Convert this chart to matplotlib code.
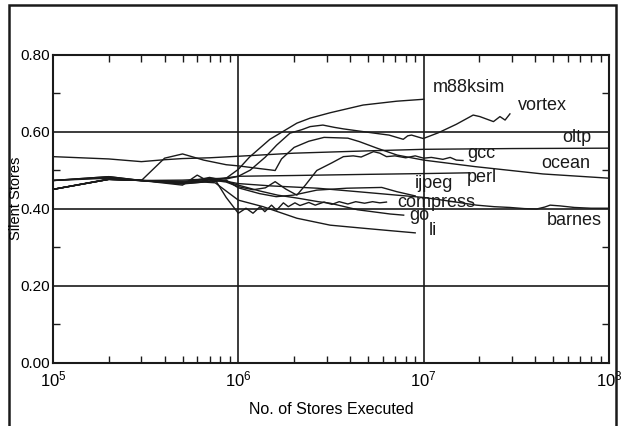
import matplotlib
matplotlib.use("Agg")
import matplotlib.pyplot as plt
from matplotlib.patches import Rectangle
from matplotlib.ticker import FixedLocator, LogLocator, NullFormatter

plt.rcParams["font.family"] = ["Liberation Sans", "DejaVu Sans"]
plt.rcParams["mathtext.fontset"] = "custom"
plt.rcParams["mathtext.rm"] = "Liberation Sans"
plt.rcParams["mathtext.default"] = "regular"

# ------------------ data ------------------
oltp_x = [1e5, 2e5, 3e5, 4e5, 5e5, 7e5, 1e6, 2e6, 5e6, 1e7, 3e7, 1e8]
oltp_y = [0.536, 0.530, 0.523, 0.528, 0.531, 0.533, 0.537, 0.545, 0.551, 0.555, 0.557, 0.558]

ocean_x = [1e5, 2e5, 3e5, 4e5, 5e5, 6.5e5, 8.6e5, 1e6, 1.3e6, 1.58e6, 1.71e6, 2.0e6, 2.4e6,
           2.9e6, 3.9e6, 4.5e6, 5.6e6, 7.2e6, 1e7, 1.9e7, 4.4e7, 1e8]
ocean_y = [0.474, 0.482, 0.474, 0.532, 0.543, 0.527, 0.515, 0.512, 0.505, 0.500, 0.530, 0.560, 0.576,
           0.586, 0.584, 0.575, 0.558, 0.540, 0.527, 0.510, 0.491, 0.480]

m88ksim_x = [1e5, 2e5, 3e5, 5e5, 7e5, 8.6e5, 1e6, 1.15e6, 1.48e6, 2.07e6, 2.44e6, 3.13e6,
             4.71e6, 7.16e6, 1.0e7]
m88ksim_y = [0.451, 0.477, 0.474, 0.470, 0.472, 0.480, 0.503, 0.535, 0.581, 0.623, 0.636, 0.650,
             0.670, 0.680, 0.685]

vortex_x = [1e5, 2e5, 3e5, 5e5, 7e5, 8.6e5, 1e6, 1.16e6, 1.4e6, 1.61e6, 1.9e6, 2.2e6, 2.44e6,
            2.86e6, 3.3e6, 3.7e6, 4.71e6, 5.82e6, 6.5e6, 7.76e6, 8.2e6, 8.6e6, 9.95e6, 1.2e7,
            1.5e7, 1.85e7, 2.01e7, 2.38e7, 2.58e7, 2.75e7, 2.92e7]
vortex_y = [0.474, 0.484, 0.474, 0.468, 0.480, 0.478, 0.485, 0.501, 0.535, 0.566, 0.597, 0.606, 0.614,
            0.618, 0.612, 0.608, 0.601, 0.595, 0.592, 0.581, 0.590, 0.592, 0.583, 0.598,
            0.620, 0.644, 0.640, 0.627, 0.640, 0.631, 0.647]

gcc_x = [1e5, 2e5, 3e5, 5e5, 7e5, 8.6e5, 1e6, 1.2e6, 1.4e6, 1.58e6, 1.8e6, 2.07e6, 2.3e6, 2.65e6,
         3.2e6, 3.69e6, 4.17e6, 4.6e6, 5.36e6, 5.8e6, 6.3e6, 7e6, 8e6, 9e6, 1e7, 1.1e7, 1.27e7,
         1.39e7, 1.5e7, 1.63e7]
gcc_y = [0.451, 0.478, 0.474, 0.466, 0.476, 0.470, 0.458, 0.450, 0.455, 0.471, 0.452, 0.436, 0.462, 0.500,
         0.520, 0.536, 0.538, 0.535, 0.549, 0.545, 0.536, 0.538, 0.533, 0.538, 0.532, 0.534, 0.529,
         0.534, 0.527, 0.526]

perl_x = [1e5, 2e5, 3e5, 5e5, 7e5, 8.6e5, 1e6, 2e6, 5e6, 1e7, 1.78e7]
perl_y = [0.474, 0.484, 0.474, 0.472, 0.477, 0.481, 0.485, 0.487, 0.490, 0.492, 0.494]

ijpeg_x = [1e5, 2e5, 3e5, 5e5, 6e5, 7e5, 8.6e5, 1e6, 1.3e6, 1.6e6, 1.98e6, 2.65e6, 3.85e6,
           5.94e6, 7.16e6, 9e6]
ijpeg_y = [0.451, 0.477, 0.474, 0.462, 0.488, 0.470, 0.475, 0.455, 0.440, 0.432, 0.436, 0.449, 0.454,
           0.456, 0.445, 0.434]

compress_x = [1e5, 2e5, 3e5, 5e5, 6.5e5, 7.5e5, 8.6e5, 1e6, 1.1e6, 1.2e6, 1.31e6, 1.39e6, 1.51e6,
              1.61e6, 1.75e6, 1.86e6, 2.02e6, 2.15e6, 2.4e6, 2.6e6, 2.9e6, 3.2e6, 3.5e6, 3.9e6,
              4.3e6, 4.8e6, 5.3e6, 5.8e6, 6.3e6]
compress_y = [0.451, 0.477, 0.474, 0.465, 0.470, 0.476, 0.430, 0.389, 0.402, 0.389, 0.406, 0.393, 0.410,
              0.397, 0.416, 0.406, 0.416, 0.409, 0.417, 0.410, 0.418, 0.412, 0.419, 0.413,
              0.419, 0.415, 0.419, 0.416, 0.418]

go_x = [1e5, 2e5, 3e5, 5e5, 7e5, 8.6e5, 1e6, 1.3e6, 1.63e6, 2.1e6, 2.7e6, 3.13e6, 4.4e6, 6.59e6, 7.8e6]
go_y = [0.451, 0.477, 0.474, 0.468, 0.482, 0.472, 0.462, 0.447, 0.436, 0.428, 0.419, 0.415, 0.398, 0.387, 0.384]

li_x = [1e5, 2e5, 3e5, 5e5, 6.5e5, 7.5e5, 1e6, 1.36e6, 2.07e6, 3.13e6, 4.73e6, 6.5e6, 9e6]
li_y = [0.451, 0.477, 0.474, 0.466, 0.470, 0.468, 0.423, 0.406, 0.376, 0.358, 0.350, 0.344, 0.338]

barnes_x = [1e5, 2e5, 3e5, 5e5, 7e5, 8.6e5, 1e6, 1.5e6, 2.67e6, 4.4e6, 7.16e6, 1e7, 1.4e7, 1.93e7,
            2.4e7, 2.92e7, 3.5e7, 4.07e7, 4.5e7, 4.81e7, 5.45e7, 6.5e7, 8e7, 1e8]
barnes_y = [0.474, 0.480, 0.474, 0.475, 0.478, 0.472, 0.466, 0.460, 0.454, 0.445, 0.436, 0.430, 0.420, 0.410,
            0.406, 0.404, 0.401, 0.400, 0.405, 0.410, 0.408, 0.404, 0.402, 0.402]

series = {
    "m88ksim": (m88ksim_x, m88ksim_y),
    "vortex": (vortex_x, vortex_y),
    "oltp": (oltp_x, oltp_y),
    "gcc": (gcc_x, gcc_y),
    "ocean": (ocean_x, ocean_y),
    "perl": (perl_x, perl_y),
    "ijpeg": (ijpeg_x, ijpeg_y),
    "compress": (compress_x, compress_y),
    "go": (go_x, go_y),
    "li": (li_x, li_y),
    "barnes": (barnes_x, barnes_y),
}

# where the names sit (x, y in data units)
label_pos = {
    "m88ksim": (1.12e7, 0.716),
    "vortex": (3.23e7, 0.670),
    "oltp": (5.58e7, 0.587),
    "gcc": (1.71e7, 0.543),
    "ocean": (4.3e7, 0.519),
    "perl": (1.71e7, 0.481),
    "ijpeg": (9.0e6, 0.465),
    "compress": (7.2e6, 0.418),
    "go": (8.35e6, 0.382),
    "li": (1.06e7, 0.345),
    "barnes": (4.63e7, 0.371),
}

# ------------------ plot ------------------
fig = plt.figure(figsize=(6.22, 4.26), dpi=100)
ax = fig.add_axes([0.0852, 0.1479, 0.8939, 0.7230])

ink = "#1a1a1a"
for name, (xs, ys) in series.items():
    ax.plot(xs, ys, color=ink, lw=1.0)
    lx, ly = label_pos[name]
    ax.text(lx, ly, name, fontsize=13, color=ink, ha="left", va="center")

ax.set_xscale("log")
ax.set_xlim(1e5, 1e8)
ax.set_ylim(0, 0.8)

# grid lines at the majors
for yv in [0.2, 0.4, 0.6]:
    ax.axhline(yv, color=ink, lw=1.2, zorder=0)
for xv in [1e6, 1e7]:
    ax.axvline(xv, color=ink, lw=1.2, zorder=0)

ax.set_yticks([0.0, 0.2, 0.4, 0.6, 0.8])
ax.set_yticklabels(["0.00", "0.20", "0.40", "0.60", "0.80"])
ax.yaxis.set_minor_locator(FixedLocator([0.1, 0.3, 0.5, 0.7]))
ax.set_xticks([1e5, 1e6, 1e7, 1e8])
ax.set_xticklabels([r"$10^{5}$", r"$10^{6}$", r"$10^{7}$", r"$10^{8}$"])
ax.xaxis.set_minor_locator(LogLocator(base=10, subs=range(2, 10)))
ax.xaxis.set_minor_formatter(NullFormatter())

ax.tick_params(which="both", direction="in", top=True, right=True, color=ink)
ax.tick_params(which="major", length=0)
ax.tick_params(axis="y", which="major", pad=2, labelsize=11)
ax.tick_params(axis="x", which="major", pad=5, labelsize=12)
ax.tick_params(which="minor", length=5, width=1.0)

for s in ax.spines.values():
    s.set_linewidth(1.5)
    s.set_color(ink)

ax.set_xlabel("No. of Stores Executed", fontsize=11.5, labelpad=9)
fig.text(0.025, 0.535, "Silent Stores", rotation=90, fontsize=10.5,
         ha="center", va="center")

# outer frame around the whole figure (bottom edge runs off the picture)
fig.patches.append(Rectangle((9 / 622, -0.1), (616 - 9) / 622, 1.088,
                             transform=fig.transFigure, fill=False,
                             edgecolor=ink, lw=1.8))

fig.savefig("out.png", dpi=100)
